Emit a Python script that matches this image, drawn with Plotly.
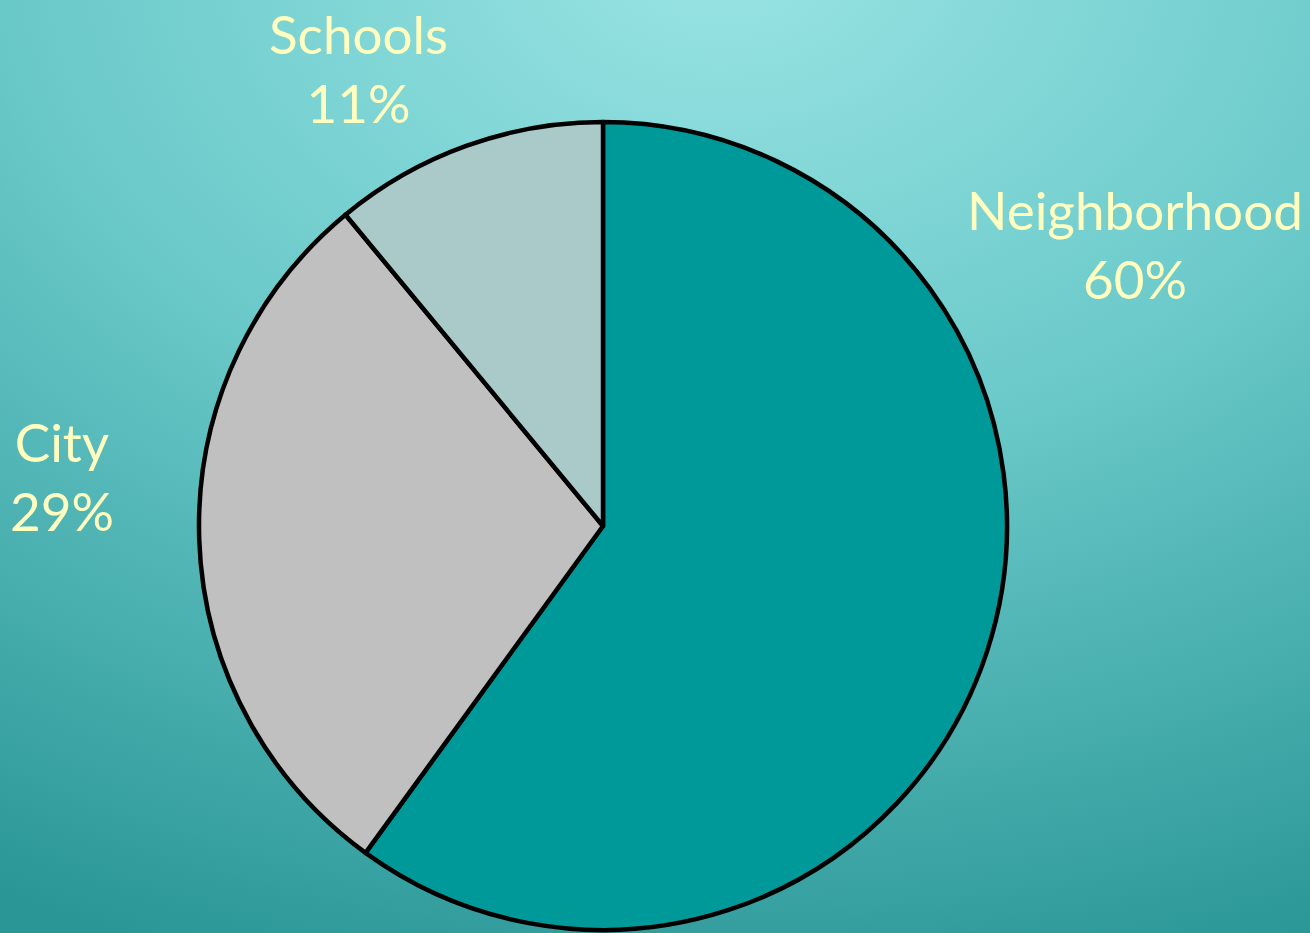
import base64
import plotly.graph_objects as go

labels = ["Neighborhood", "City", "Schools"]
values = [60, 29, 11]
colors = ["#009999", "#C0C0C0", "#AACACA"]

# label anchor positions (paper coords)
label_x = [1135 / 1310, 62 / 1310, 358 / 1310]
label_y = [1 - 244 / 933, 1 - 476 / 933, 1 - 68 / 933]

svg = (
    '<svg xmlns="http://www.w3.org/2000/svg" width="1310" height="933" preserveAspectRatio="none">'
    '<defs><radialGradient id="g" cx="0.55" cy="-0.05" r="1.15" gradientUnits="objectBoundingBox">'
    '<stop offset="0" stop-color="#9AE4E4"/>'
    '<stop offset="0.45" stop-color="#6CCACA"/>'
    '<stop offset="1" stop-color="#2A9696"/>'
    '</radialGradient></defs>'
    '<rect width="1310" height="933" fill="url(#g)"/></svg>'
)
bg_uri = "data:image/svg+xml;base64," + base64.b64encode(svg.encode()).decode()

fig = go.Figure(
    go.Pie(
        labels=labels,
        values=values,
        marker=dict(colors=colors, line=dict(color="#000000", width=4.5)),
        sort=False,
        direction="clockwise",
        rotation=0,
        textinfo="none",
        hoverinfo="label+percent",
        showlegend=False,
        domain=dict(x=[198 / 1310, 1008 / 1310], y=[3 / 933, 811 / 933]),
    )
)

font_family = "Comic Sans MS, Lato, Open Sans, sans-serif"
for lab, val, x, y in zip(labels, values, label_x, label_y):
    fig.add_annotation(
        x=x, y=y, xref="paper", yref="paper",
        text=f"{lab}<br>{val}%",
        showarrow=False,
        xanchor="center", yanchor="middle",
        font=dict(family=font_family, size=53, color="#FFFFC0"),
        align="center",
    )

fig.update_layout(
    width=1310,
    height=933,
    margin=dict(l=0, r=0, t=0, b=0),
    paper_bgcolor="#5BBDBD",
    plot_bgcolor="rgba(0,0,0,0)",
    images=[dict(
        source=bg_uri, xref="paper", yref="paper", x=0, y=1,
        sizex=1, sizey=1, xanchor="left", yanchor="top",
        sizing="stretch", layer="below",
    )],
)

fig.write_html(
    "out.html",
    config={"displayModeBar": False},
    post_script="document.body.style.margin='0';",
)
